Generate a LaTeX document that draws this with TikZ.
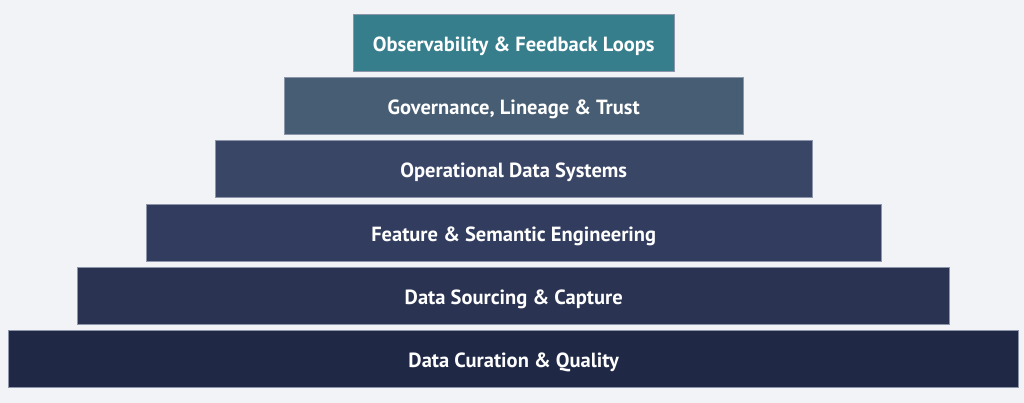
\documentclass[tikz,border=0pt]{standalone}
\usepackage{fontspec}
\setmainfont{PT Sans}
\definecolor{bg}{HTML}{F2F3F7}
\definecolor{cA}{HTML}{367E8C}
\definecolor{cB}{HTML}{475D73}
\definecolor{cC}{HTML}{3A4666}
\definecolor{cD}{HTML}{313C5E}
\definecolor{cE}{HTML}{2A3452}
\definecolor{cF}{HTML}{1F2946}
\definecolor{edge}{HTML}{8C95AA}
\tikzset{
  layer/.style={draw=edge, line width=0.7pt, rectangle, inner sep=0pt,
    minimum height=57pt, text height=17pt, text depth=0pt,
    text=white, font=\fontsize{20.5}{24}\selectfont\bfseries}
}
\begin{document}
\begin{tikzpicture}[x=1pt,y=-1pt]
\fill[bg] (0,0) rectangle (1024,403);
\useasboundingbox (0,0) rectangle (1024,403);
\node[layer, fill=cA, minimum width=321pt] (l1) at (513.7,42.7) {Observability \& Feedback Loops};
\node[layer, fill=cB, minimum width=459pt] (l2) at (513.7,106.0) {Governance, Lineage \& Trust};
\node[layer, fill=cC, minimum width=597pt] (l3) at (513.7,169.3) {Operational Data Systems};
\node[layer, fill=cD, minimum width=735pt] (l4) at (513.7,232.6) {Feature \& Semantic Engineering};
\node[layer, fill=cE, minimum width=872pt] (l5) at (513.7,295.9) {Data Sourcing \& Capture};
\node[layer, fill=cF, minimum width=1010pt] (l6) at (513.7,359.2) {Data Curation \& Quality};
\end{tikzpicture}
\end{document}
